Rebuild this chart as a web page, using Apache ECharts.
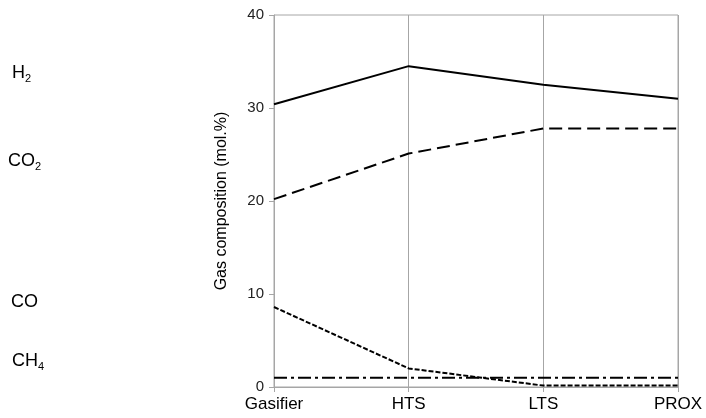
<!DOCTYPE html>
<html>
<head>
<meta charset="utf-8">
<script src="https://cdn.jsdelivr.net/npm/echarts@6/dist/echarts.min.js"></script>
<style>
  html, body { margin: 0; padding: 0; background: #fff; }
  #chart { width: 706px; height: 418px; }
</style>
</head>
<body>
<div id="chart"></div>
<script>
var stages = ['Gasifier', 'HTS', 'LTS', 'PROX'];
var yTicks = [0, 10, 20, 30, 40];
var h2 = [30.4, 34.5, 32.5, 31.0];
var co2 = [20.2, 25.1, 27.8, 27.8];
var co = [8.6, 2.0, 0.15, 0.15];
var ch4 = [1.0, 1.0, 1.0, 1.0];

var font = 'Liberation Sans, Arial, sans-serif';
var axisGrey = '#a6a6a6';

// labels down the left side, with subscripts
function sideLabel(top, left, main, sub) {
    return {
        type: 'text',
        left: left,
        top: top,
        style: {
            text: '{m|' + main + '}' + (sub ? '{s|' + sub + '}' : ''),
            rich: {
                m: { fontFamily: font, fontSize: 18, fill: '#000', verticalAlign: 'bottom' },
                s: { fontFamily: font, fontSize: 11, fill: '#000', verticalAlign: 'bottom', padding: [0, 0, -2, 0] }
            }
        }
    };
}

var myChart = echarts.init(document.getElementById('chart'));

myChart.setOption({
    animation: false,
    grid: {
        left: 274, right: 28, top: 15, bottom: 31,
        show: true, borderColor: axisGrey, borderWidth: 1
    },
    graphic: [
        sideLabel(64, 12, 'H', '2'),
        sideLabel(152, 8, 'CO', '2'),
        sideLabel(293, 11, 'CO', ''),
        sideLabel(352, 12, 'CH', '4')
    ],
    xAxis: {
        type: 'category',
        data: stages,
        boundaryGap: false,
        axisLine: { lineStyle: { color: axisGrey } },
        axisTick: { show: true, length: 5, lineStyle: { color: axisGrey } },
        axisLabel: { color: '#000', fontFamily: font, fontSize: 17, margin: 9, interval: 0 },
        splitLine: { show: true, lineStyle: { color: axisGrey, width: 1 } }
    },
    yAxis: {
        type: 'value',
        min: yTicks[0],
        max: yTicks[yTicks.length - 1],
        interval: 10,
        name: 'Gas composition (mol.%)',
        nameLocation: 'middle',
        nameGap: 44,
        nameTextStyle: { color: '#000', fontFamily: font, fontSize: 16 },
        axisLine: { show: true, lineStyle: { color: axisGrey } },
        axisTick: { show: true, length: 5, lineStyle: { color: axisGrey } },
        axisLabel: { color: '#222', fontFamily: font, fontSize: 15, margin: 10 },
        splitLine: { show: false }
    },
    series: [
        {
            name: 'H2', type: 'line', data: h2, symbol: 'none',
            lineStyle: { color: '#000', width: 2, type: 'solid' }
        },
        {
            name: 'CO2', type: 'line', data: co2, symbol: 'none',
            lineStyle: { color: '#000', width: 2, type: [13, 6] }
        },
        {
            name: 'CO', type: 'line', data: co, symbol: 'none',
            lineStyle: { color: '#000', width: 2, type: [5, 2] }
        },
        {
            name: 'CH4', type: 'line', data: ch4, symbol: 'none',
            lineStyle: { color: '#000', width: 2, type: [13, 4, 3, 4] }
        }
    ]
});
</script>
</body>
</html>
